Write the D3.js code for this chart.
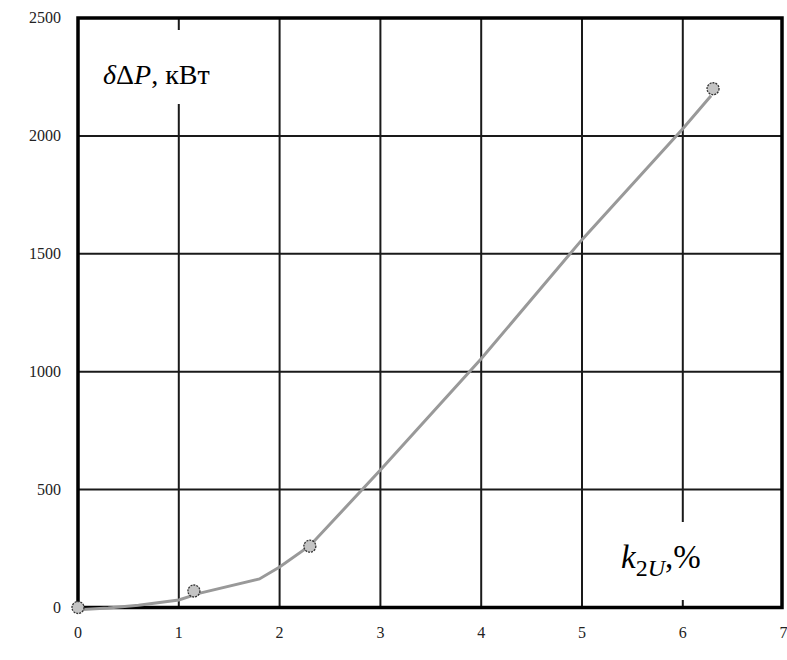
<!DOCTYPE html>
<html>
<head>
<meta charset="utf-8">
<script src="https://cdn.jsdelivr.net/npm/d3@7"></script>
<style>
  body { margin: 0; background: #fff; }
  text { font-family: "Liberation Serif", "DejaVu Serif", serif; }
  .tick-label { font-size: 16px; fill: #222; }
  .grid line { stroke: #1a1a1a; stroke-width: 2; }
  .frame { fill: none; stroke: #000; stroke-width: 3.5; }
  .curve { fill: none; stroke: #999; stroke-width: 3; }
  .marker { fill: #c4c4c4; stroke: #333; stroke-width: 1.3; stroke-dasharray: 2 1; }
</style>
</head>
<body>
<script>

/*
 * Data.
 */

// Measured points.
var pointX = [0, 1.15, 2.3, 6.3];
var pointY = [0, 70, 260, 2200];

// Approximating curve.
var curveX = [0, 0.3, 0.6, 1.0, 1.2, 1.8, 2.0, 2.3, 3.0, 4.0, 5.0, 6.0, 6.28];
var curveY = [-10, -2, 10, 32, 60, 121, 172, 262, 583, 1055, 1560, 2030, 2170];

// Ticks.
var xTicks = [0, 1, 2, 3, 4, 5, 6, 7];
var yTicks = [0, 500, 1000, 1500, 2000, 2500];

/*
 * Layout.
 */

var width = 787;
var height = 660;
var margin = { top: 18, right: 3, bottom: 52, left: 78 };

var svg = d3.select('body').append('svg')
  .attr('width', width)
  .attr('height', height);

var x = d3.scaleLinear()
  .domain([0, 7])
  .range([margin.left, margin.left + 7 * 100.8]);

var y = d3.scaleLinear()
  .domain([0, 2500])
  .range([height - margin.bottom - 0.5, margin.top]);

var plotRight = 782;

// Grid lines.
var grid = svg.append('g').attr('class', 'grid');

grid.selectAll('line.v')
  .data(xTicks.slice(1, -1))
  .enter().append('line')
  .attr('class', 'v')
  .attr('x1', function(d) { return x(d); })
  .attr('x2', function(d) { return x(d); })
  .attr('y1', y(2500))
  .attr('y2', y(0));

grid.selectAll('line.h')
  .data(yTicks.slice(1, -1))
  .enter().append('line')
  .attr('class', 'h')
  .attr('x1', x(0))
  .attr('x2', plotRight)
  .attr('y1', function(d) { return y(d); })
  .attr('y2', function(d) { return y(d); });

// Axis labels (white boxes hide the grid behind them).
svg.append('rect')
  .attr('x', 98).attr('y', 30)
  .attr('width', 128).attr('height', 74)
  .attr('fill', '#fff');

var yLabel = svg.append('text')
  .attr('x', 103).attr('y', 84)
  .style('font-size', '28px');
yLabel.append('tspan').style('font-style', 'italic').text('δ');
yLabel.append('tspan').text('Δ');
yLabel.append('tspan').style('font-style', 'italic').text('P');
yLabel.append('tspan').text(', кВт');

svg.append('rect')
  .attr('x', 612).attr('y', 522)
  .attr('width', 112).attr('height', 78)
  .attr('fill', '#fff');

var xLabel = svg.append('text')
  .attr('x', 621).attr('y', 568)
  .style('font-size', '33px');
xLabel.append('tspan').style('font-style', 'italic').text('k');
xLabel.append('tspan').attr('dy', 8).style('font-size', '24px').text('2');
xLabel.append('tspan').style('font-size', '24px').style('font-style', 'italic').text('U');
xLabel.append('tspan').attr('dy', -8).text(',%');

// Frame.
svg.append('rect')
  .attr('class', 'frame')
  .attr('x', x(0))
  .attr('y', y(2500))
  .attr('width', plotRight - x(0))
  .attr('height', y(0) - y(2500));

// Tick labels.
svg.selectAll('text.ytick')
  .data(yTicks)
  .enter().append('text')
  .attr('class', 'tick-label ytick')
  .attr('x', 61)
  .attr('y', function(d) { return y(d) + 5; })
  .attr('text-anchor', 'end')
  .text(function(d) { return d; });

svg.selectAll('text.xtick')
  .data(xTicks)
  .enter().append('text')
  .attr('class', 'tick-label xtick')
  .attr('x', function(d) { return x(d); })
  .attr('y', 638)
  .attr('text-anchor', 'middle')
  .text(function(d) { return d; });

// Curve.
var line = d3.line()
  .x(function(d, i) { return x(curveX[i]); })
  .y(function(d) { return y(d); });

svg.append('path')
  .attr('class', 'curve')
  .attr('d', line(curveY));

// Markers.
svg.selectAll('circle.marker')
  .data(pointY)
  .enter().append('circle')
  .attr('class', 'marker')
  .attr('cx', function(d, i) { return x(pointX[i]); })
  .attr('cy', function(d) { return y(d); })
  .attr('r', 6);

</script>
</body>
</html>
